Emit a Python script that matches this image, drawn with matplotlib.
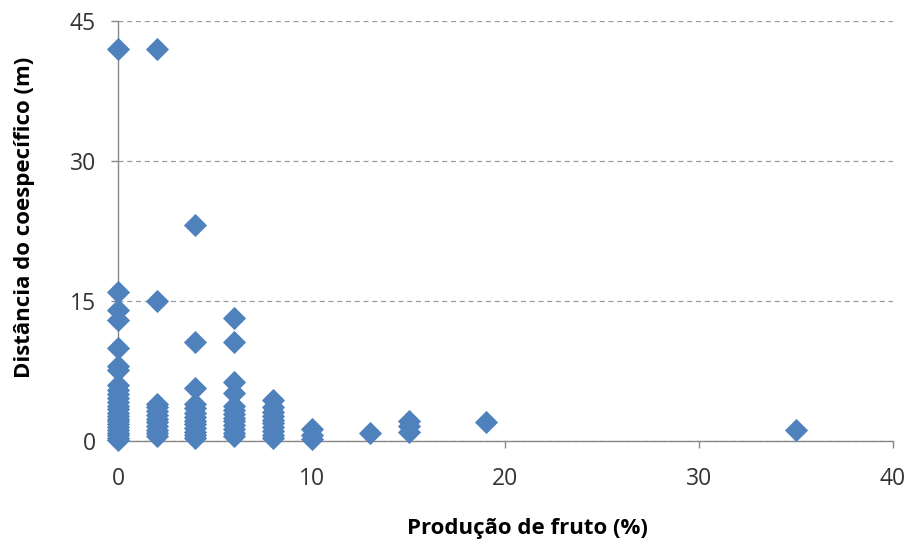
import matplotlib
matplotlib.use("Agg")
import matplotlib.pyplot as plt

plt.rcParams['font.family'] = ['Open Sans', 'DejaVu Sans']

# Fruit production (%) groups and distances to conspecific (m)
x0 = [0] * 25
y0 = [42, 16, 14, 13, 10, 8, 7.6, 6, 5.5, 5, 4.6, 4.2, 3.8, 3.4, 3, 2.7, 2.4, 2.1, 1.8, 1.5, 1.2, 0.9, 0.6, 0.3, 0.1]
x2 = [2] * 12
y2 = [42, 15, 4.0, 3.6, 3.2, 2.8, 2.4, 2.0, 1.6, 1.2, 0.9, 0.5]
x4 = [4] * 13
y4 = [23.2, 10.6, 5.7, 4.0, 3.5, 3.0, 2.6, 2.2, 1.8, 1.4, 1.0, 0.6, 0.3]
x6 = [6] * 13
y6 = [13.2, 10.6, 6.3, 5.1, 3.8, 3.3, 2.9, 2.5, 2.1, 1.7, 1.3, 0.9, 0.5]
x8 = [8] * 10
y8 = [4.4, 3.6, 3.1, 2.7, 2.3, 1.9, 1.5, 1.1, 0.7, 0.3]
x_rest = [10, 10, 10, 13, 15, 15, 15, 19, 35]
y_rest = [1.3, 0.7, 0.2, 0.9, 2.2, 1.6, 1.0, 2.0, 1.2]

xs = x0 + x2 + x4 + x6 + x8 + x_rest
ys = y0 + y2 + y4 + y6 + y8 + y_rest

x_ticks = [0, 10, 20, 30, 40]
y_ticks = [0, 15, 30, 45]

fig = plt.figure(figsize=(9.1, 5.5), dpi=100)
ax = fig.add_axes([0.1297, 0.198, 0.8513, 0.7638])

ax.plot(xs, ys, linestyle='none', marker='D', markersize=11.5,
        markeredgewidth=0.6,
        color='#4F81BD', markeredgecolor='#4F81BD', clip_on=False, zorder=3)

ax.set_xlim(0, 40)
ax.set_ylim(0, 45)
ax.set_xticks(x_ticks)
ax.set_yticks(y_ticks)
ax.yaxis.grid(True, linestyle=(0, (4, 3)), color='#9a9a9a', linewidth=0.9)
ax.set_axisbelow(True)
for s in ['top', 'right']:
    ax.spines[s].set_visible(False)
for s in ['left', 'bottom']:
    ax.spines[s].set_color('#888888')
    ax.spines[s].set_linewidth(1.0)
ax.tick_params(axis='both', colors='#888888', labelcolor='#333333',
               labelsize=16.5, length=5, width=1.0)
ax.tick_params(axis='x', pad=14)
ax.tick_params(axis='y', pad=11)

ax.set_xlabel('Produção de fruto (%)', fontsize=16, fontweight='bold',
              color='#000000')
ax.set_ylabel('Distância do coespecífico (m)', fontsize=16, fontweight='bold',
              color='#000000')
ax.xaxis.set_label_coords(0.528, -0.184)
ax.yaxis.set_label_coords(-0.107, 0.533)

fig.savefig('out.png', dpi=100)
